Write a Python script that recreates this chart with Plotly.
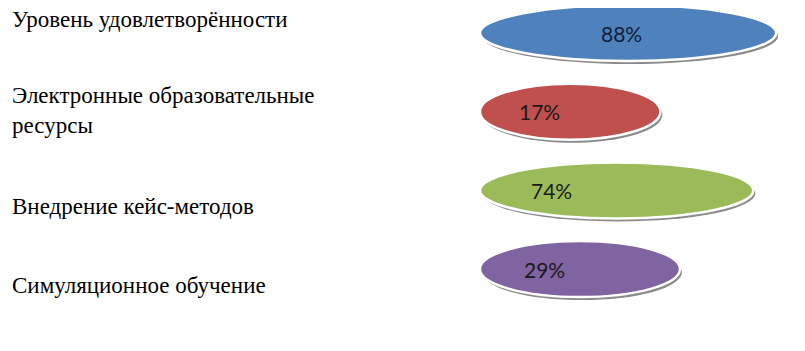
import plotly.graph_objects as go

# ---- data ----
categories = [
    "Уровень удовлетворённости",
    "Электронные образовательные<br>ресурсы",
    "Внедрение кейс-методов",
    "Симуляционное обучение",
]
values = [88, 17, 74, 29]
value_labels = ["88%", "17%", "74%", "29%"]

# ---- style ----
colors = ["#4F81BD", "#C0504D", "#9BBB59", "#8064A2"]
pct_xshift = [-7, -31, -65, -35]          # text offset inside ellipse (px)
label_y_px = [20, 111, 206, 285]          # left caption vertical centres (page px)

PAGE_W, PAGE_H = 805, 351
OFF = 8                                   # browser body margin
W, H = PAGE_W - OFF, PAGE_H - OFF
PX = 1.63            # pixels per value unit
ORIGIN_PX = 632.7 - OFF    # figure pixel of value 0
START = -93.7        # ellipse left start (value units)
ROW_PX = 78.7
TOP_PX = 33 - OFF
HALF_H = 28 / ROW_PX

x_range = [-ORIGIN_PX / PX, (W - ORIGIN_PX) / PX]
y_range = [(H - TOP_PX) / ROW_PX, -TOP_PX / ROW_PX]

fig = go.Figure()
fig.add_trace(go.Scatter(x=values, y=list(range(len(values))), mode="markers",
                         marker=dict(opacity=0), hoverinfo="skip", showlegend=False))

shapes = []
annotations = []
dx = 2.0 / PX
dy = 3.0 / ROW_PX
for i, (v, c) in enumerate(zip(values, colors)):
    shapes.append(dict(type="circle", xref="x", yref="y",
                       x0=START + dx, x1=v + dx, y0=i - HALF_H + dy, y1=i + HALF_H + dy,
                       fillcolor="#8a8a8a", line=dict(width=0), layer="above"))
    shapes.append(dict(type="circle", xref="x", yref="y",
                       x0=START, x1=v, y0=i - HALF_H, y1=i + HALF_H,
                       fillcolor=c, line=dict(color="white", width=2.5), layer="above"))
    annotations.append(dict(x=(START + v) / 2, y=i, xref="x", yref="y",
                            text=value_labels[i], showarrow=False, xshift=pct_xshift[i],
                            font=dict(family="Lato", size=21,
                                      color="#0f1f3a" if i == 0 else "#1a1a1a")))
    annotations.append(dict(x=(10 - OFF) / W, y=1 - (label_y_px[i] - OFF) / H,
                            xref="paper", yref="paper",
                            text=categories[i], showarrow=False, xanchor="left", yanchor="middle",
                            align="left",
                            font=dict(family="Liberation Serif, Times New Roman, serif",
                                      size=23, color="#000000")))

fig.update_layout(
    width=W, height=H,
    margin=dict(l=0, r=0, t=0, b=0),
    paper_bgcolor="white", plot_bgcolor="white",
    xaxis=dict(range=x_range, visible=False, fixedrange=True),
    yaxis=dict(range=y_range, visible=False, fixedrange=True),
    shapes=shapes, annotations=annotations, showlegend=False,
)

fig.write_html("out.html")
